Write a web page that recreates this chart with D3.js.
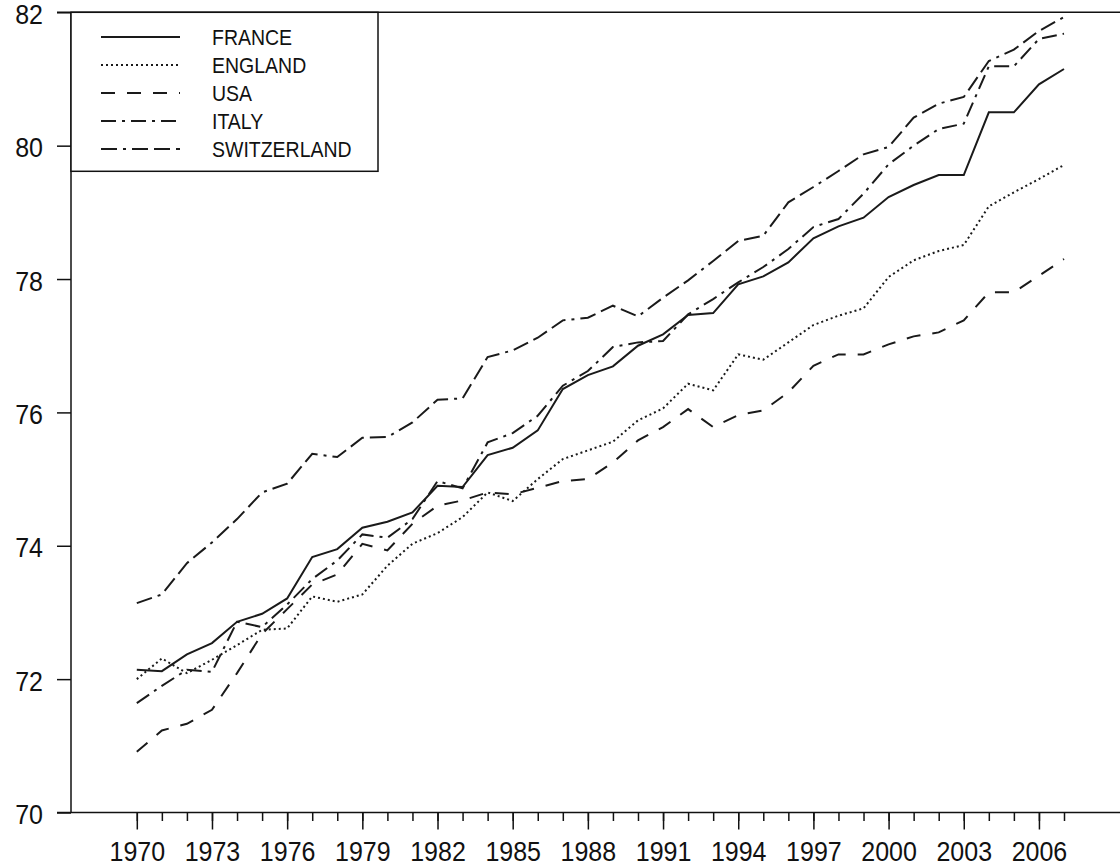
<!DOCTYPE html>
<html lang="en">
<head>
    <meta charset="UTF-8">
    <title>Life expectancy 1970-2007</title>
    <script src="https://d3js.org/d3.v7.min.js"></script>
    <style>
        body {
            margin: 0;
            background: #fff;
        }
        svg text {
            font-family: "Liberation Sans", Arial, sans-serif;
            fill: #111;
        }
    </style>
</head>
<body>
    <svg id="chart" width="1120" height="867"></svg>

    <script>
        // data
        const years = [1970, 1971, 1972, 1973, 1974, 1975, 1976, 1977, 1978, 1979,
                       1980, 1981, 1982, 1983, 1984, 1985, 1986, 1987, 1988, 1989,
                       1990, 1991, 1992, 1993, 1994, 1995, 1996, 1997, 1998, 1999,
                       2000, 2001, 2002, 2003, 2004, 2005, 2006, 2007];

        const france = [72.14, 72.12, 72.37, 72.54, 72.86, 72.98, 73.21, 73.83, 73.95, 74.27,
                        74.36, 74.50, 74.90, 74.88, 75.36, 75.47, 75.73, 76.35, 76.56, 76.69,
                        77.00, 77.17, 77.46, 77.49, 77.92, 78.04, 78.25, 78.61, 78.79, 78.92,
                        79.23, 79.41, 79.56, 79.56, 80.50, 80.50, 80.92, 81.15];

        const england = [72.00, 72.31, 72.09, 72.29, 72.51, 72.74, 72.76, 73.24, 73.16, 73.27,
                         73.70, 74.03, 74.19, 74.43, 74.80, 74.67, 75.00, 75.30, 75.43, 75.56,
                         75.88, 76.06, 76.43, 76.33, 76.87, 76.79, 77.05, 77.31, 77.45, 77.56,
                         78.03, 78.28, 78.42, 78.51, 79.09, 79.30, 79.50, 79.71];

        const usa = [70.91, 71.23, 71.33, 71.54, 72.09, 72.68, 73.05, 73.42, 73.57, 74.03,
                     73.93, 74.33, 74.60, 74.68, 74.80, 74.77, 74.87, 74.97, 75.00, 75.25,
                     75.58, 75.78, 76.05, 75.78, 75.96, 76.03, 76.30, 76.70, 76.87, 76.87,
                     77.02, 77.14, 77.20, 77.38, 77.80, 77.80, 78.05, 78.30];

        const italy = [71.64, 71.90, 72.14, 72.11, 72.86, 72.78, 73.12, 73.50, 73.78, 74.17,
                       74.12, 74.40, 74.97, 74.86, 75.55, 75.69, 75.95, 76.40, 76.62, 76.98,
                       77.05, 77.07, 77.47, 77.70, 77.95, 78.18, 78.45, 78.78, 78.90, 79.28,
                       79.72, 80.00, 80.25, 80.33, 81.19, 81.19, 81.60, 81.68];

        const switzerland = [73.14, 73.27, 73.74, 74.05, 74.40, 74.80, 74.93, 75.38, 75.33, 75.62,
                             75.63, 75.85, 76.19, 76.21, 76.83, 76.93, 77.12, 77.38, 77.42, 77.60,
                             77.44, 77.72, 77.98, 78.27, 78.57, 78.65, 79.15, 79.38, 79.62, 79.87,
                             79.98, 80.42, 80.63, 80.73, 81.27, 81.44, 81.72, 81.93];

        const countries = ["FRANCE", "ENGLAND", "USA", "ITALY", "SWITZERLAND"];
        const yTicks = [70, 72, 74, 76, 78, 80, 82];
        const xLabelYears = [1970, 1973, 1976, 1979, 1982, 1985, 1988, 1991, 1994, 1997, 2000, 2003, 2006];

        // line style per country
        const dashes = {
            "FRANCE": null,
            "ENGLAND": "2,3",
            "USA": "14,12",
            "ITALY": "15,6,3,6",
            "SWITZERLAND": "16,6,3,6,16,6,16,6"
        };

        const series = [
            { name: "FRANCE", values: france },
            { name: "ENGLAND", values: england },
            { name: "USA", values: usa },
            { name: "ITALY", values: italy },
            { name: "SWITZERLAND", values: switzerland }
        ];

        const svg = d3.select("#chart");
        const axisX = 71, topY = 12.3, bottomY = 812.5;

        const x = d3.scaleLinear().domain([1970, 2007]).range([136.8, 1064]);
        const y = d3.scaleLinear().domain([70, 82]).range([bottomY, topY]);

        // frame lines (top, left, bottom)
        const frame = svg.append("g").attr("stroke", "#111").attr("stroke-width", 1.5);
        frame.append("line").attr("x1", 57).attr("x2", 1120).attr("y1", topY).attr("y2", topY);
        frame.append("line").attr("x1", 57).attr("x2", 1120).attr("y1", bottomY).attr("y2", bottomY);
        frame.append("line").attr("x1", axisX).attr("x2", axisX).attr("y1", topY).attr("y2", bottomY);

        // y axis
        const yAxis = svg.append("g")
            .attr("transform", `translate(${axisX},0)`)
            .call(d3.axisLeft(y).tickValues(yTicks).tickSize(14).tickFormat(d3.format("d")));
        yAxis.select(".domain").remove();
        yAxis.selectAll("line").attr("stroke", "#111").attr("stroke-width", 1.5);
        yAxis.selectAll("text")
            .attr("x", 0).attr("dy", null)
            .attr("transform", "translate(-28,11) scale(1,1.08)")
            .attr("font-size", 25)
            .attr("text-anchor", "end");

        // x axis: minor ticks every year, major with labels every 3 years
        const xMinor = svg.append("g")
            .attr("transform", `translate(0,${bottomY})`)
            .call(d3.axisBottom(x).tickValues(years).tickSize(8.5).tickFormat(""));
        xMinor.select(".domain").remove();
        xMinor.selectAll("line").attr("stroke", "#111").attr("stroke-width", 1.5);

        const xMajor = svg.append("g")
            .attr("transform", `translate(0,${bottomY})`)
            .call(d3.axisBottom(x).tickValues(xLabelYears).tickSize(17).tickFormat(d3.format("d")));
        xMajor.select(".domain").remove();
        xMajor.selectAll("line").attr("stroke", "#111").attr("stroke-width", 1.5);
        xMajor.selectAll("text")
            .attr("y", 0).attr("dy", null)
            .attr("transform", "translate(0,48) scale(1,1.08)")
            .attr("font-size", 25);

        // series lines
        const line = d3.line()
            .x((d, i) => x(years[i]))
            .y(d => y(d));

        svg.append("g")
            .selectAll("path")
            .data(series)
            .join("path")
            .attr("d", d => line(d.values))
            .attr("fill", "none")
            .attr("stroke", "#1a1a1a")
            .attr("stroke-width", 2)
            .attr("stroke-dasharray", d => dashes[d.name]);

        // legend box
        const legend = svg.append("g");
        legend.append("rect")
            .attr("x", axisX).attr("y", topY)
            .attr("width", 307).attr("height", 159)
            .attr("fill", "#fff")
            .attr("stroke", "#111")
            .attr("stroke-width", 1.5);

        const rows = legend.selectAll("g.row")
            .data(countries)
            .join("g")
            .attr("class", "row")
            .attr("transform", (d, i) => `translate(0,${37 + i * 28})`);

        rows.append("line")
            .attr("x1", 101).attr("x2", 180)
            .attr("stroke", "#1a1a1a")
            .attr("stroke-width", 2)
            .attr("stroke-dasharray", d => dashes[d]);

        rows.append("text")
            .attr("transform", "translate(212,7.5) scale(1,1.1)")
            .attr("font-size", 19.5)
            .text(d => d);
    </script>
</body>
</html>
